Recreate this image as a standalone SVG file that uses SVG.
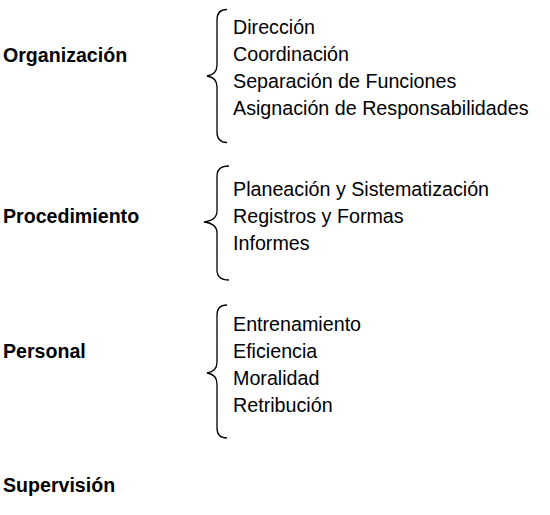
<svg xmlns="http://www.w3.org/2000/svg" width="550" height="515" viewBox="0 0 550 515">
<style>
.lbl{font-family:"Liberation Sans",Arial,sans-serif;font-weight:bold;font-size:19.6px;fill:#000}
.itm{font-family:"Liberation Sans",Arial,sans-serif;font-size:19.7px;fill:#000}
.brace{fill:none;stroke:#000;stroke-width:1.3}
</style>
<rect width="550" height="515" fill="#fff"/>
<g id="connectors">
<path class="brace" d="M227,9.5 C220,9.5 217,13 217,20 L217,65 C217,71 214,75 207,76 C214,77 217,81 217,87 L217,132 C217,139 220,142.5 227,142.5"/>
<path class="brace" d="M229,166 C221,166 217,169 217,176 L217,211 C217,217 212,221 204,222 C212,223 217,227 217,233 L217,270 C217,277 221,280 229,280"/>
<path class="brace" d="M227,305 C220,305 217,308 217,315 L217,362 C217,368 214,372 207,373 C214,374 217,378 217,384 L217,428 C217,435 220,438 227,438"/>
</g>
<g id="organizacion">
<text class="lbl" x="3" y="61.5">Organización</text>
<text class="itm" x="233" y="34">Dirección</text>
<text class="itm" x="233" y="61">Coordinación</text>
<text class="itm" x="233" y="88">Separación de Funciones</text>
<text class="itm" x="233" y="115">Asignación de Responsabilidades</text>
</g>
<g id="procedimiento">
<text class="lbl" x="3" y="223">Procedimiento</text>
<text class="itm" x="233" y="196">Planeación y Sistematización</text>
<text class="itm" x="233" y="223">Registros y Formas</text>
<text class="itm" x="233" y="250">Informes</text>
</g>
<g id="personal">
<text class="lbl" x="3" y="358">Personal</text>
<text class="itm" x="233" y="331">Entrenamiento</text>
<text class="itm" x="233" y="358">Eficiencia</text>
<text class="itm" x="233" y="385">Moralidad</text>
<text class="itm" x="233" y="412">Retribución</text>
</g>
<g id="supervision">
<text class="lbl" x="3" y="492">Supervisión</text>
</g>
</svg>
